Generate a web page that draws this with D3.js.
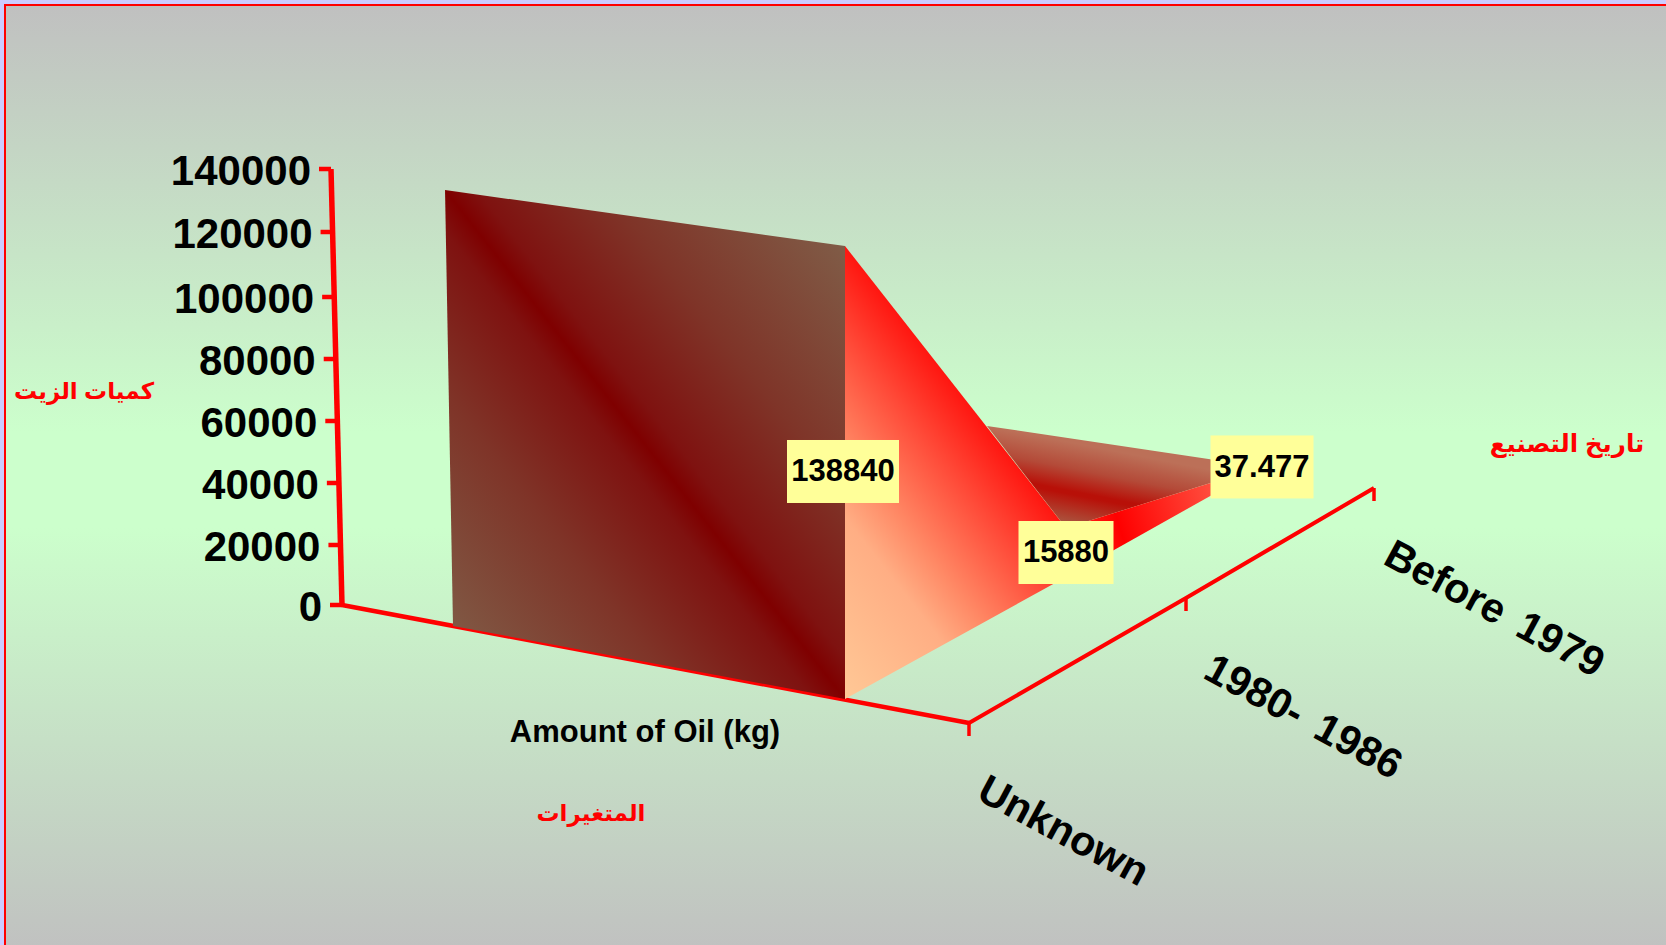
<!DOCTYPE html>
<html>
<head>
<meta charset="utf-8">
<script src="https://cdn.jsdelivr.net/npm/d3@7"></script>
<style>
  html, body { margin:0; padding:0; background:#ccccff; overflow:hidden; }
  text { font-family:"Liberation Sans", "DejaVu Sans", sans-serif; font-weight:bold; }
</style>
</head>
<body>
<div id="chart"></div>
<script>
var width = 1666, height = 945;

// data
var years = ["Unknown", "1980- 1986", "Before 1979"];
var oil = [138840, 15880, 37.477];
var oilLabels = ["138840", "15880", "37.477"];
var yTicks = [0, 20000, 40000, 60000, 80000, 100000, 120000, 140000];
var seriesName = "Amount of Oil (kg)";
var yTitle = "كميات الزيت";
var depthTitle = "تاريخ التصنيع";
var xTitle = "المتغيرات";

var svg = d3.select("#chart")
    .append("svg")
        .attr("width", width)
        .attr("height", height)
        .style("display", "block");

var defs = svg.append("defs");

// background panel
var bg = defs.append("linearGradient").attr("id", "bg")
    .attr("x1", 0).attr("y1", 0).attr("x2", 0).attr("y2", 1);
bg.append("stop").attr("offset", 0).attr("stop-color", "#c0c0c0");
bg.append("stop").attr("offset", 0.45).attr("stop-color", "#ccffcc");
bg.append("stop").attr("offset", 0.55).attr("stop-color", "#ccffcc");
bg.append("stop").attr("offset", 1).attr("stop-color", "#c0c0c0");

svg.append("rect")
    .attr("x", 5).attr("y", 5)
    .attr("width", width + 10).attr("height", height - 5 + 10)
    .attr("fill", "url(#bg)")
    .attr("stroke", "#ff0000")
    .attr("stroke-width", 2);

// scales: the fake 3d box is just a set of scales, one per edge
var depth = d3.scalePoint().domain(years).range([0, 2]);
var y = d3.scaleLinear().domain(yTicks).range([605, 545, 483, 421, 359, 297, 232, 169]);
var yLean = d3.scaleLinear().domain([0, 140000]).range([342, 331]);

var rightX = d3.scaleLinear().domain([0, 1, 2]).range([845, 1066, 1262]);
var rightY = d3.scaleLinear().domain([0, 1, 2]).range([699, 577, 467]);
var leftX = d3.scaleLinear().domain([0, 1, 2]).range([453, 736, 987]);
var leftY = d3.scaleLinear().domain([0, 1, 2]).range([626, 520, 426]);
var rightH = d3.scaleLinear().domain([0, 1, 2]).range([456.8, 432, 410]);
var leftH = d3.scaleLinear().domain([0, 1, 2]).range([439.6, 420, 400]);

var floorX = d3.scaleLinear().domain([0, 1, 2]).range([969, 1186, 1374]);
var floorY = d3.scaleLinear().domain([0, 1, 2]).range([723, 598, 488]);
var catX = d3.scaleLinear().domain([0, 1, 2]).range([1064, 1304, 1495]);
var catY = d3.scaleLinear().domain([0, 1, 2]).range([830, 716, 608]);

function pointRight(i, v){
    var h = v / 140000 * rightH(i);
    return [rightX(i), rightY(i) - h];
}
function pointLeft(i, v){
    var h = v / 140000 * leftH(i);
    return [leftX(i) - h * 0.0183, leftY(i) - h];
}

var line = d3.line();

// gradient whose colour bands run along direction dir, spanning points a..b
function bandGradient(id, a, b, dir, stops){
    var len = Math.sqrt(dir[0]*dir[0] + dir[1]*dir[1]);
    var nx = -dir[1]/len, ny = dir[0]/len;
    var d = (b[0]-a[0])*nx + (b[1]-a[1])*ny;
    var g = defs.append("linearGradient").attr("id", id)
        .attr("gradientUnits", "userSpaceOnUse")
        .attr("x1", a[0]).attr("y1", a[1])
        .attr("x2", a[0] + nx*d).attr("y2", a[1] + ny*d);
    stops.forEach(function(s){
        g.append("stop").attr("offset", s[0]).attr("stop-color", s[1]);
    });
}

// axes
var axisColor = "#ff0000";
var yAxis = svg.append("g").attr("class", "y-axis")
    .call(d3.axisLeft(y).tickValues(yTicks).tickFormat(d3.format("d")).tickSize(12).tickPadding(8));
yAxis.select(".domain").remove();
yAxis.selectAll(".tick")
    .attr("transform", function(d){ return "translate(" + yLean(d) + "," + y(d) + ")"; });
yAxis.selectAll(".tick line")
    .attr("stroke", axisColor)
    .attr("stroke-width", 4.5);
yAxis.selectAll(".tick text")
    .attr("font-size", 42)
    .attr("font-family", "Liberation Sans")
    .attr("font-weight", "bold")
    .attr("fill", "#000")
    .attr("dy", "0.39em");

svg.append("path")
    .attr("d", line([[yLean(140000), y(140000)], [yLean(0), y(0)]]))
    .attr("fill", "none").attr("stroke", axisColor).attr("stroke-width", 5.5);
svg.append("path")
    .attr("d", line([[yLean(0), y(0)], [floorX(0), floorY(0)]]))
    .attr("fill", "none").attr("stroke", axisColor).attr("stroke-width", 4.5);
svg.append("path")
    .attr("d", line([[floorX(0), floorY(0)], [floorX(1), floorY(1)], [floorX(2), floorY(2)]]))
    .attr("fill", "none").attr("stroke", axisColor).attr("stroke-width", 4);

svg.selectAll(".depth-tick")
    .data(years)
    .enter().append("line")
        .attr("class", "depth-tick")
        .attr("x1", function(d){ return floorX(depth(d)); })
        .attr("x2", function(d){ return floorX(depth(d)); })
        .attr("y1", function(d){ return floorY(depth(d)); })
        .attr("y2", function(d){ return floorY(depth(d)) + 13; })
        .attr("stroke", axisColor)
        .attr("stroke-width", 3.5);

// area surfaces, back to front
var iFar = 2, iMid = 1, iNear = 0;

var farTop = [pointLeft(iFar, oil[iFar]), pointRight(iFar, oil[iFar]), pointRight(iMid, oil[iMid])];
bandGradient("topFar", farTop[0], farTop[2], [1, 0.197], [
    [0, "#bc7058"], [0.3, "#b44a38"], [0.56, "#b81008"], [0.6, "#b81008"], [1, "#a86048"]
]);
svg.append("path")
    .attr("d", line(farTop) + "Z")
    .attr("fill", "url(#topFar)");

var farSide = [pointRight(iMid, oil[iMid]), pointRight(iFar, oil[iFar]), [rightX(iMid), rightY(iMid)]];
var sideFar = defs.append("linearGradient").attr("id", "sideFar")
    .attr("gradientUnits", "userSpaceOnUse")
    .attr("x1", farSide[0][0]).attr("y1", farSide[0][1])
    .attr("x2", farSide[1][0]).attr("y2", farSide[1][1]);
sideFar.append("stop").attr("offset", 0).attr("stop-color", "#ff3020");
sideFar.append("stop").attr("offset", 0.25).attr("stop-color", "#ff0000");
sideFar.append("stop").attr("offset", 0.75).attr("stop-color", "#ff5040");
sideFar.append("stop").attr("offset", 1).attr("stop-color", "#ff6a58");
svg.append("path")
    .attr("d", line(farSide) + "Z")
    .attr("fill", "url(#sideFar)");

var nearSide = [pointRight(iNear, oil[iNear]), pointRight(iMid, oil[iMid]),
    [rightX(iMid), rightY(iMid)], [rightX(iNear), rightY(iNear)]];
bandGradient("sideNear", nearSide[3], nearSide[0], [nearSide[1][0]-nearSide[0][0], nearSide[1][1]-nearSide[0][1]], [
    [0, "#ffc896"], [0.4, "#ffae84"], [0.55, "#ff8a66"], [0.8, "#ff4a38"], [1, "#ff1610"]
]);
svg.append("path")
    .attr("d", line(nearSide) + "Z")
    .attr("fill", "url(#sideNear)");

var wall = defs.append("linearGradient").attr("id", "wall")
    .attr("x1", 1).attr("y1", 0).attr("x2", 0).attr("y2", 1);
wall.append("stop").attr("offset", 0.03).attr("stop-color", "#80604a");
wall.append("stop").attr("offset", 0.3).attr("stop-color", "#7f3428");
wall.append("stop").attr("offset", 0.46).attr("stop-color", "#7f1210");
wall.append("stop").attr("offset", 0.5).attr("stop-color", "#7f0000");
wall.append("stop").attr("offset", 0.54).attr("stop-color", "#7f1210");
wall.append("stop").attr("offset", 0.7).attr("stop-color", "#7f3428");
wall.append("stop").attr("offset", 0.97).attr("stop-color", "#80604a");
svg.append("path")
    .attr("d", line([
        pointLeft(iNear, oil[iNear]), pointRight(iNear, oil[iNear]),
        [rightX(iNear), rightY(iNear)], [leftX(iNear), leftY(iNear)]
    ]) + "Z")
    .attr("fill", "url(#wall)");

// data labels
var labelHeight = 63;
var labelWidth = [112, 95, 103];
var labelShift = [2, 0, 0];
oil.forEach(function(v, i){
    var top = pointRight(i, v), cx = rightX(i) - labelShift[i], cy = (top[1] + rightY(i)) / 2 - (i == 0 ? 1 : 0);
    svg.append("rect")
        .attr("x", cx - labelWidth[i]/2).attr("y", cy - labelHeight/2)
        .attr("width", labelWidth[i]).attr("height", labelHeight)
        .attr("fill", "#ffff99");
    svg.append("text")
        .attr("x", cx).attr("y", cy + 10)
        .attr("text-anchor", "middle")
        .attr("font-size", 31)
        .attr("fill", "#000")
        .text(oilLabels[i]);
});

// category labels on the depth axis
svg.selectAll(".cat")
    .data(years)
    .enter().append("text")
        .attr("class", "cat")
        .attr("text-anchor", "middle")
        .attr("font-size", 41.5)
        .attr("word-spacing", 7)
        .attr("fill", "#000")
        .attr("transform", function(d){
            return "translate(" + catX(depth(d)) + "," + catY(depth(d)) + ") rotate(28.3)";
        })
        .attr("dy", "0.35em")
        .text(function(d){ return d; });

svg.append("text")
    .attr("x", 645).attr("y", 742)
    .attr("text-anchor", "middle")
    .attr("font-size", 31)
    .attr("fill", "#000")
    .text(seriesName);

// arabic titles
[[yTitle, 84, 399, 23], [depthTitle, 1567, 452, 24.5], [xTitle, 591, 821, 23]].forEach(function(t){
    svg.append("text")
        .attr("x", t[1]).attr("y", t[2])
        .attr("text-anchor", "middle")
        .attr("direction", "rtl")
        .attr("font-size", t[3])
        .attr("fill", "#ff0000")
        .text(t[0]);
});
</script>
</body>
</html>
